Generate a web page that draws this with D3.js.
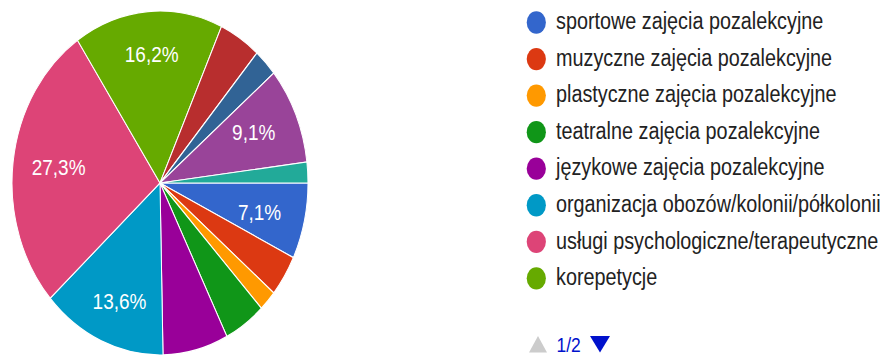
<!DOCTYPE html>
<html>
<head>
<meta charset="utf-8">
<script src="https://cdn.jsdelivr.net/npm/d3@7"></script>
<style>
  html, body { margin: 0; padding: 0; background: #ffffff; }
  svg { display: block; }
  text { font-family: Arial, "Liberation Sans", sans-serif; }
</style>
</head>
<body>
<svg id="chart" width="882" height="356"></svg>
<script>
// Answers per option (154 responses in total)
const categories = [
  "sportowe zajęcia pozalekcyjne",
  "muzyczne zajęcia pozalekcyjne",
  "plastyczne zajęcia pozalekcyjne",
  "teatralne zajęcia pozalekcyjne",
  "językowe zajęcia pozalekcyjne",
  "organizacja obozów/kolonii/półkolonii",
  "usługi psychologiczne/terapeutyczne",
  "korepetycje",
  "inne (1)",
  "inne (2)",
  "inne (3)",
  "inne (4)"
];
const counts = [11, 6, 3, 7, 11, 21, 42, 25, 7, 4, 14, 3];
const colors = [
  "#3366cc", "#dc3912", "#ff9900", "#109618", "#990099", "#0099c6",
  "#dd4477", "#66aa00", "#b82e2e", "#316395", "#994499", "#22aa99"
];
const legendPageSize = 8;
const legendPageLabel = "1/2";

// Layout
const SY = 1.162;              // vertical stretch of the whole drawing
const cx = 160, cy = 183 / SY, R = 148;
const labelFont = 19, legendFont = 19.8;

const svg = d3.select("#chart");
const root = svg.append("g").attr("transform", `scale(1,${SY})`);

const data = categories.map((name, i) => ({ name, value: counts[i], color: colors[i] }));
const total = d3.sum(counts);
const fmtPct = v => d3.format(".1f")(v / total * 100).replace(".", ",") + "%";

const start = Math.PI / 2;
const pie = d3.pie().value(d => d.value).sort(null)
  .startAngle(start).endAngle(start + 2 * Math.PI);
const arcs = pie(data);
const arc = d3.arc().innerRadius(0).outerRadius(R);

const g = root.append("g").attr("transform", `translate(${cx},${cy})`);

g.selectAll("path.slice").data(arcs).join("path")
  .attr("class", "slice")
  .attr("d", arc)
  .attr("fill", d => d.data.color)
  .attr("stroke", "#ffffff")
  .attr("stroke-width", 1);

// Percentage labels, kept only when the text box sits fully inside its slice
const pad = 3;
function fits(a, box) {
  const corners = [[box.x0, box.y0], [box.x1, box.y0], [box.x0, box.y1], [box.x1, box.y1]];
  return corners.every(([px, py]) => {
    const r = Math.hypot(px, py);
    if (r > R - pad) return false;
    let ang = Math.atan2(px, -py);
    while (ang < a.startAngle) ang += 2 * Math.PI;
    while (ang >= a.startAngle + 2 * Math.PI) ang -= 2 * Math.PI;
    if (ang > a.endAngle) return false;
    const d0 = ang - a.startAngle, d1 = a.endAngle - ang;
    const dist0 = d0 < Math.PI / 2 ? r * Math.sin(d0) : r;
    const dist1 = d1 < Math.PI / 2 ? r * Math.sin(d1) : r;
    return dist0 >= pad && dist1 >= pad;
  });
}

const labels = g.append("g");
arcs.forEach(a => {
  const mid = (a.startAngle + a.endAngle) / 2;
  const x = 0.69 * R * Math.sin(mid);
  const y = -0.75 * R * Math.cos(mid);
  const t = labels.append("text")
    .attr("x", x)
    .attr("y", y + 0.358 * labelFont)
    .attr("text-anchor", "middle")
    .attr("font-size", labelFont)
    .attr("fill", "#ffffff")
    .text(fmtPct(a.data.value));
  const w = t.node().getComputedTextLength();
  const h = 0.716 * labelFont;
  const box = { x0: x - w / 2, x1: x + w / 2, y0: y - h / 2, y1: y + h / 2 };
  if (!fits(a, box)) t.remove();
});

// Legend (first page)
const legX = 536.3, legTextX = 556, legY0 = 22.5 / SY, legStep = 36.55 / SY;
const leg = root.append("g");
const rows = leg.selectAll("g.row").data(data.slice(0, legendPageSize)).join("g")
  .attr("class", "row")
  .attr("transform", (d, i) => `translate(0,${legY0 + i * legStep})`);
rows.append("circle")
  .attr("cx", legX).attr("cy", 0).attr("r", 9.6)
  .attr("fill", d => d.color);
rows.append("text")
  .attr("x", legTextX).attr("y", 5.8)
  .attr("font-size", legendFont)
  .attr("fill", "#222222")
  .text(d => d.name);

// Pagination
const pgBase = 352.5 / SY, pgTop = 336 / SY;
leg.append("path")
  .attr("d", `M538,${pgTop} L547,${pgBase} L529,${pgBase} Z`)
  .attr("fill", "#cccccc");
leg.append("text")
  .attr("x", 556.5).attr("y", pgBase)
  .attr("font-size", 17.5)
  .attr("fill", "#0011cc")
  .text(legendPageLabel);
leg.append("path")
  .attr("d", `M590,${pgTop} L610,${pgTop} L600,${pgBase} Z`)
  .attr("fill", "#0011cc");
</script>
</body>
</html>
